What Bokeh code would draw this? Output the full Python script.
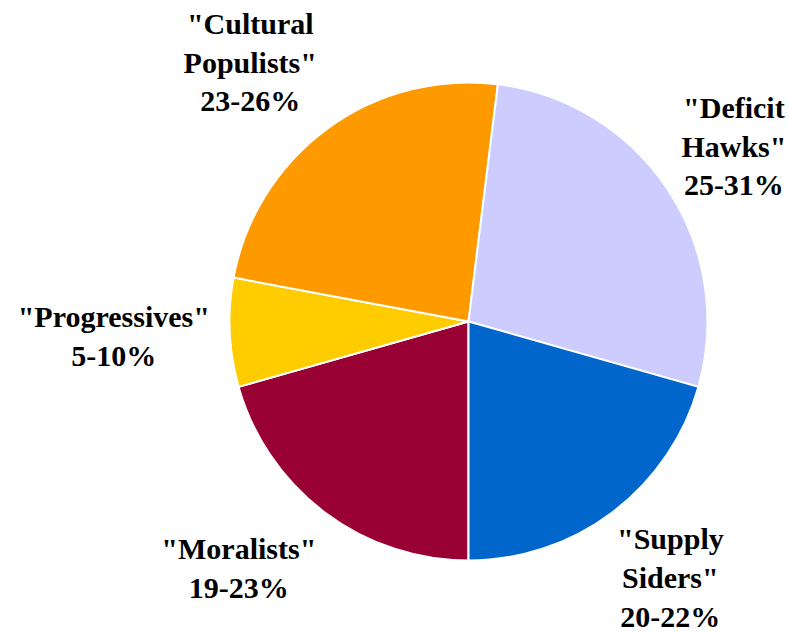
import math
from bokeh.plotting import figure
from bokeh.models import Range1d, ColumnDataSource
from bokeh.core.properties import value
from bokeh.embed import file_html
from bokeh.resources import INLINE

# Data (clockwise from the bottom of the pie)
categories = ['"Moralists"', '"Progressives"', '"Cultural\nPopulists"', '"Deficit\nHawks"', '"Supply\nSiders"']
ranges = ["19-23%", "5-10%", "23-26%", "25-31%", "20-22%"]
values = [21, 7.5, 24.5, 28, 21]
colors = ["#990033", "#FFCC00", "#FF9900", "#CCCCFF", "#0066CC"]

# Layout (label placement relative to slice mid-angle)
label_dist = [337, 355, 339, 318, 326]
label_shift_deg = [-5.9, -0.3, 3.9, -0.1, 1.2]

W, H = 789, 633
cx, cy, R = 468, 312, 239

p = figure(width=W, height=H, output_backend="svg", toolbar_location=None,
           x_range=Range1d(0, W), y_range=Range1d(0, H), min_border=0)
p.axis.visible = False
p.grid.visible = False
p.outline_line_color = None
p.background_fill_color = "white"

total = sum(values)
starts, ends, lx, ly, labels = [], [], [], [], []
a = -math.pi / 2
for i, v in enumerate(values):
    span = v / total * 2 * math.pi
    starts.append(a)
    ends.append(a - span)
    mid = a - span / 2 + math.radians(label_shift_deg[i])
    lx.append(cx + label_dist[i] * math.cos(mid))
    ly.append(cy + label_dist[i] * math.sin(mid))
    labels.append(categories[i] + "\n" + ranges[i])
    a -= span

src = ColumnDataSource(dict(start=starts, end=ends, color=colors))
p.wedge(x=cx, y=cy, radius=R, start_angle="start", end_angle="end", direction="clock",
        fill_color="color", line_color="white", line_width=2, source=src)

p.text(x=lx, y=ly, text=labels, text_font=value("Liberation Serif"), text_font_style="bold",
       text_font_size="30px", text_align="center", text_baseline="middle",
       text_line_height=1.17, text_color="black")

open("out.html", "w").write(file_html(p, INLINE))
